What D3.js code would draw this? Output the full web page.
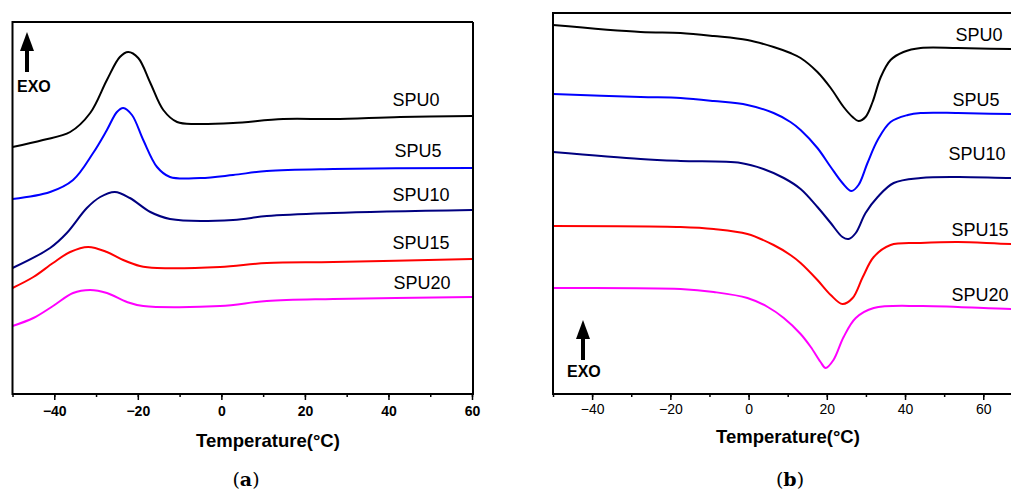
<!DOCTYPE html>
<html>
<head>
<meta charset="utf-8">
<script src="https://cdn.jsdelivr.net/npm/d3@7"></script>
<style>
  body { margin: 0; background: #fff; }
  svg { display: block; }
</style>
</head>
<body>
<svg id="chart" width="1011" height="491"></svg>
<script>
// Panel (a): cooling scans, [temperature °C, heat flow a.u.]
const seriesNames = ["SPU0", "SPU5", "SPU10", "SPU15", "SPU20"];
const seriesColors = ["#000000", "#0000ff", "#000080", "#ff0000", "#ff00ff"];

const coolSPU0 = [[-50, 247], [-42.7, 254], [-36.2, 262], [-31.4, 281], [-27.4, 314], [-24.3, 337], [-22.3, 342], [-19.9, 336], [-17, 311], [-13.9, 284], [-10.6, 272], [-6, 270], [2.8, 271], [14.8, 275], [26.8, 275], [42.8, 277], [60, 278]];
const coolSPU5 = [[-50, 195], [-41, 202], [-35.5, 214], [-30.7, 241], [-27.4, 264], [-25, 282], [-23.5, 286], [-21.4, 279], [-18.7, 254], [-15.4, 227], [-12.3, 217], [-5, 216], [2.8, 219], [10.9, 223], [26.8, 225], [60, 226]];
const coolSPU10 = [[-50, 126], [-41, 146], [-37, 161], [-32.2, 186], [-29, 197], [-25.5, 202], [-21.9, 196], [-17, 182], [-12.3, 175], [2.8, 174], [10.9, 178], [26.8, 181], [60, 184]];
const coolSPU15 = [[-50, 106], [-45, 117], [-40.3, 131], [-36.2, 142], [-31.9, 147], [-27.4, 142], [-23.5, 134], [-19.5, 128], [-15.4, 126], [-0.3, 127], [10.9, 131], [26.8, 132], [60, 135]];
const coolSPU20 = [[-50, 68], [-45, 76], [-40.3, 88], [-35.5, 101], [-31.4, 104], [-27.4, 101], [-22.6, 92], [-18.7, 88], [-0.3, 88], [10.9, 93], [26.8, 95], [60, 97]];

// Panel (b): heating scans
const heatSPU0 = [[-50, 369], [-27.6, 362], [-17.4, 361], [-8.9, 358], [-0.3, 354], [6.4, 347], [10.7, 341], [13.3, 336], [17.6, 322], [21, 306], [24.3, 287], [26.6, 277], [28.1, 273], [29.9, 277], [31.7, 292], [33.8, 317], [36.3, 334], [39.6, 342], [44, 346], [53.5, 346], [67.3, 345], [80, 345]];
const heatSPU5 = [[-50, 300], [-27.6, 297], [-17.4, 296], [-8.9, 293], [-0.3, 289], [6.4, 281], [10.7, 272], [13.3, 264], [17.6, 246], [21, 227], [24, 211], [26.3, 203], [28.1, 209], [30.4, 231], [33, 254], [36.3, 272], [40.7, 279], [44, 281], [53.5, 281], [67.3, 280], [80, 280]];
const heatSPU10 = [[-50, 242], [-27.6, 235], [-17.4, 233], [-2, 231], [3.8, 225], [9, 216], [13.3, 205], [17.6, 187], [21, 171], [24, 157], [25.6, 155], [27.4, 161], [29.9, 181], [33, 197], [37.1, 211], [44, 216], [53.5, 217], [67.3, 216], [80, 216]];
const heatSPU15 = [[-50, 168], [-17.4, 167], [-8.9, 165], [-0.3, 160], [6.4, 149], [10.7, 139], [13.3, 131], [17.6, 114], [21, 99], [24, 90], [26.6, 96], [29.2, 117], [32, 137], [36.3, 149], [44, 151], [53.5, 152], [67.3, 150], [80, 150]];
const heatSPU20 = [[-50, 106], [-17.4, 105], [-8.9, 102], [-0.3, 96], [4.9, 87], [9, 76], [13.3, 60], [15.9, 47], [18.4, 32], [19.7, 26], [21.7, 34], [24.3, 57], [27.4, 76], [32, 86], [44, 88], [53.5, 87], [67.3, 85], [80, 85]];

const majorTicks = [-40, -20, 0, 20, 40, 60];
const minorTicksA = d3.range(-50, 61, 10);
const minorTicksB = d3.range(-50, 81, 10);

const sans = "'Liberation Sans', Arial, sans-serif";

const svg = d3.select("#chart");
svg.append("rect").attr("width", 1011).attr("height", 491).attr("fill", "#fff");

function drawPanel(opt) {
    const x = d3.scaleLinear().domain(opt.xDomain).range([opt.left, opt.right]);
    const y = d3.scaleLinear().domain(opt.yDomain).range([opt.bottom, opt.top]);
    const g = svg.append("g");

    const line = d3.line()
        .x((d) => x(d[0]))
        .y((d) => y(d[1]))
        .curve(d3.curveCatmullRom.alpha(0.5));

    g.append("g")
        .selectAll("path")
        .data(opt.series)
        .join("path")
        .attr("d", (d) => line(d))
        .attr("fill", "none")
        .attr("stroke", (d, i) => seriesColors[i])
        .attr("stroke-width", 2);

    // minor ticks
    g.append("g")
        .attr("transform", `translate(0,${opt.bottom})`)
        .call(d3.axisBottom(x).tickValues(opt.minor).tickSize(3).tickFormat(""))
        .call((a) => a.select(".domain").remove())
        .call((a) => a.selectAll("line").attr("stroke", "#000").attr("stroke-width", 1.5));

    // major ticks and labels
    g.append("g")
        .attr("transform", `translate(0,${opt.bottom})`)
        .call(d3.axisBottom(x).tickValues(majorTicks).tickSize(6).tickPadding(opt.tickPad).tickFormat(d3.format("d")))
        .call((a) => a.select(".domain").remove())
        .call((a) => a.selectAll("line").attr("stroke", "#000").attr("stroke-width", 1.5))
        .call((a) => a.selectAll("text")
            .attr("fill", "#000")
            .style("font-family", sans)
            .style("font-size", "14px")
            .style("font-weight", opt.tickBold ? "bold" : "normal"));

    // frame
    const frame = g.append("g").attr("stroke", "#000").attr("stroke-width", 2).attr("fill", "none");
    frame.append("path")
        .attr("d", `M${opt.frameRight},${opt.top}H${opt.left}V${opt.bottom}H${opt.frameRight}` +
            (opt.closeRight ? `V${opt.top}` : ""));

    // curve labels
    g.append("g")
        .selectAll("text")
        .data(opt.labels)
        .join("text")
        .attr("x", (d) => d[0])
        .attr("y", (d) => d[1])
        .attr("dy", "0.35em")
        .attr("text-anchor", "middle")
        .style("font-family", sans)
        .style("font-size", "18px")
        .text((d, i) => seriesNames[i]);

    // EXO arrow
    const ax = opt.arrow[0], ay = opt.arrow[1];
    g.append("line")
        .attr("x1", ax).attr("x2", ax)
        .attr("y1", ay + 14).attr("y2", ay + 40)
        .attr("stroke", "#000").attr("stroke-width", 4);
    g.append("path")
        .attr("d", `M${ax},${ay}L${ax + 7},${ay + 19}L${ax - 7},${ay + 19}Z`)
        .attr("fill", "#000");
    g.append("text")
        .attr("x", opt.exo[0])
        .attr("y", opt.exo[1])
        .style("font-family", sans)
        .style("font-size", "16px")
        .style("font-weight", "bold")
        .text("EXO");

    // axis title
    g.append("text")
        .attr("x", opt.titleX)
        .attr("y", opt.titleY)
        .attr("text-anchor", "middle")
        .style("font-family", sans)
        .style("font-size", "18.5px")
        .style("font-weight", "bold")
        .text("Temperature(°C)");

    // caption
    const cap = g.append("text")
        .attr("x", opt.capX)
        .attr("y", 486)
        .attr("text-anchor", "middle")
        .style("font-family", "'DejaVu Serif', 'Liberation Serif', serif")
        .style("font-size", "19px");
    cap.append("tspan").text("(");
    cap.append("tspan").style("font-weight", "bold").text(opt.caption);
    cap.append("tspan").text(")");
}

drawPanel({
    xDomain: [-50, 60], yDomain: [0, 372],
    left: 12.5, right: 472, frameRight: 473, top: 22, bottom: 394, closeRight: true,
    series: [coolSPU0, coolSPU5, coolSPU10, coolSPU15, coolSPU20],
    minor: minorTicksA, tickBold: true, tickPad: 6,
    labels: [[416, 100], [418, 151], [421, 195], [421, 243], [422, 283]],
    arrow: [27, 32], exo: [17, 92],
    titleX: 268, titleY: 447, capX: 246, caption: "a"
});

drawPanel({
    xDomain: [-50, 80], yDomain: [0, 381],
    left: 553, right: 1061.5, frameRight: 1015, top: 13, bottom: 394, closeRight: false,
    series: [heatSPU0, heatSPU5, heatSPU10, heatSPU15, heatSPU20],
    minor: minorTicksB, tickBold: false, tickPad: 4,
    labels: [[979, 35], [976, 100], [977, 154], [980, 230], [980, 295]],
    arrow: [583, 320], exo: [567, 377],
    titleX: 788, titleY: 443, capX: 790, caption: "b"
});
</script>
</body>
</html>
